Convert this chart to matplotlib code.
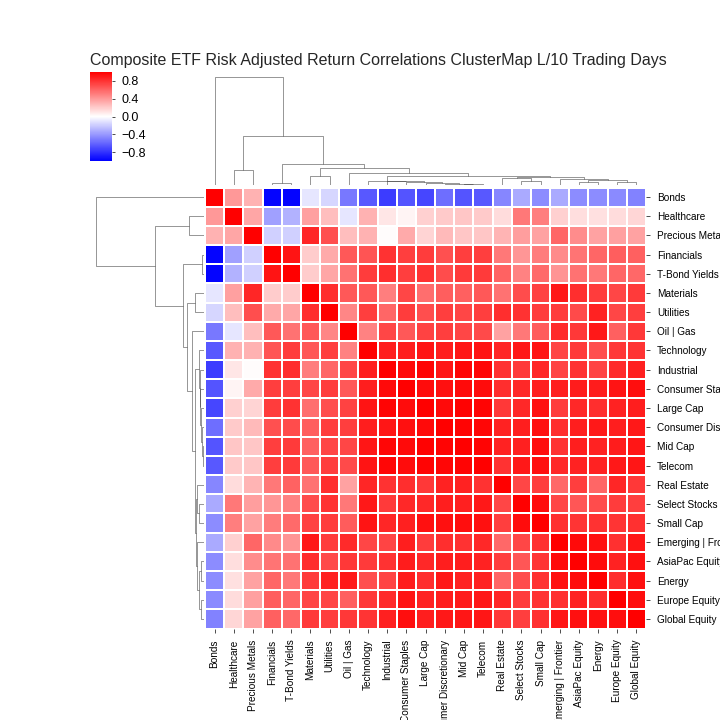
import numpy as np
import matplotlib
matplotlib.use("Agg")
from matplotlib import pyplot as plt
from matplotlib.collections import LineCollection

plt.rcParams['font.family'] = ['Liberation Sans', 'DejaVu Sans']

labels = ["Bonds", "Healthcare", "Precious Metals", "Financials", "T-Bond Yields",
          "Materials", "Utilities", "Oil | Gas", "Technology", "Industrial",
          "Consumer Staples", "Large Cap", "Consumer Discretionary", "Mid Cap",
          "Telecom", "Real Estate", "Select Stocks", "Small Cap",
          "Emerging | Frontier", "AsiaPac Equity", "Energy", "Europe Equity",
          "Global Equity"]

# upper triangle of the correlation matrix, row i holds columns i+1 .. 22
upper_rows = [
    [0.40, 0.30, -0.98, -0.98, -0.10, -0.16, -0.53, -0.65, -0.76, -0.67, -0.72,
     -0.57, -0.67, -0.65, -0.47, -0.33, -0.45, -0.33, -0.45, -0.45, -0.46, -0.49],
    [0.35, -0.37, -0.30, 0.37, 0.25, -0.10, 0.30, 0.10, 0.04, 0.18, 0.21, 0.22,
     0.21, 0.14, 0.53, 0.50, 0.18, 0.13, 0.12, 0.14, 0.16],
    [-0.18, -0.18, 0.85, 0.69, 0.25, 0.30, 0.01, 0.33, 0.17, 0.27, 0.22, 0.22,
     0.29, 0.38, 0.36, 0.60, 0.45, 0.36, 0.37, 0.36],
    [0.92, 0.20, 0.33, 0.65, 0.67, 0.80, 0.75, 0.76, 0.68, 0.75, 0.75, 0.53,
     0.41, 0.51, 0.46, 0.54, 0.60, 0.63, 0.62],
    [0.20, 0.35, 0.55, 0.76, 0.82, 0.75, 0.80, 0.70, 0.77, 0.77, 0.61, 0.49,
     0.58, 0.42, 0.55, 0.53, 0.60, 0.59],
    [0.82, 0.65, 0.65, 0.50, 0.72, 0.57, 0.63, 0.62, 0.65, 0.55, 0.70, 0.74,
     0.90, 0.82, 0.76, 0.72, 0.77],
    [0.47, 0.75, 0.60, 0.76, 0.69, 0.75, 0.72, 0.75, 0.82, 0.80, 0.76, 0.76,
     0.71, 0.86, 0.72, 0.75],
    [0.49, 0.72, 0.65, 0.74, 0.75, 0.72, 0.71, 0.36, 0.53, 0.64, 0.83, 0.78,
     0.90, 0.62, 0.78],
    [0.88, 0.88, 0.92, 0.88, 0.91, 0.92, 0.85, 0.90, 0.92, 0.72, 0.77, 0.69,
     0.78, 0.79],
    [0.96, 0.98, 0.91, 0.97, 0.97, 0.80, 0.77, 0.85, 0.73, 0.80, 0.73, 0.83, 0.87],
    [0.95, 0.93, 0.96, 0.95, 0.82, 0.84, 0.87, 0.88, 0.89, 0.89, 0.92, 0.94],
    [0.96, 0.99, 0.98, 0.78, 0.84, 0.93, 0.76, 0.84, 0.82, 0.86, 0.88],
    [0.98, 0.97, 0.86, 0.88, 0.93, 0.82, 0.88, 0.90, 0.88, 0.90],
    [0.98, 0.86, 0.87, 0.94, 0.80, 0.88, 0.86, 0.89, 0.91],
    [0.80, 0.90, 0.93, 0.84, 0.86, 0.86, 0.90, 0.91],
    [0.72, 0.75, 0.59, 0.75, 0.60, 0.85, 0.78],
    [0.95, 0.72, 0.66, 0.70, 0.76, 0.75],
    [0.81, 0.79, 0.80, 0.79, 0.81],
    [0.96, 0.93, 0.81, 0.91],
    [0.95, 0.86, 0.93],
    [0.82, 0.93],
    [0.94],
]

# linkage: (left, right, height); ids >= 23 are merges
merges = [
    (13, 14, 0.7), (12, 23, 1.3), (3, 4, 1.8), (11, 24, 2.3), (19, 20, 2.7),
    (21, 22, 2.7), (10, 26, 3.3), (9, 29, 4.0), (8, 30, 4.3), (16, 17, 4.3),
    (27, 28, 5.0), (18, 33, 6.5), (15, 32, 6.7), (35, 34, 8.0), (5, 6, 8.7),
    (31, 36, 9.0), (7, 38, 11.7), (1, 2, 15.0), (37, 39, 16.7), (25, 41, 20.7),
    (40, 42, 48.7), (0, 43, 107.7),
]

n = len(labels)
corr = np.eye(n)
for i, row in enumerate(upper_rows):
    corr[i, i + 1:] = row
    corr[i + 1:, i] = row

# dendrogram segments
pos = {i: i + 0.5 for i in range(n)}
hgt = {i: 0.0 for i in range(n)}
segs = []
for k, (a, b, h) in enumerate(merges):
    segs.append([(pos[a], hgt[a]), (pos[a], h), (pos[b], h), (pos[b], hgt[b])])
    pos[n + k] = (pos[a] + pos[b]) / 2
    hgt[n + k] = h
hmax = 113

W = 720.0
fig = plt.figure(figsize=(10, 10), dpi=72)
ax = fig.add_axes([205 / W, 1 - 628.5 / W, 441 / W, 441 / W])
ax_top = fig.add_axes([205 / W, 1 - 185 / W, 441 / W, hmax / W])
ax_left = fig.add_axes([90.5 / W, 1 - 628.5 / W, hmax / W, 441 / W])
cax = fig.add_axes([90 / W, 1 - 161 / W, 22 / W, 89 / W])

mesh = ax.pcolormesh(np.arange(n + 1), np.arange(n + 1), corr, cmap="bwr",
                     vmin=-1, vmax=1, edgecolors="white", linewidth=1.5)
ax.set_xlim(0, n)
ax.set_ylim(n, 0)
ax.set_xticks(np.arange(n) + 0.5)
ax.set_xticklabels(labels, rotation=90, fontsize=10)
ax.set_yticks(np.arange(n) + 0.5)
ax.set_yticklabels(labels, fontsize=10)
ax.yaxis.tick_right()
ax.tick_params(length=3.5, width=0.8, color="0.15", pad=7.5)
for s in ax.spines.values():
    s.set_visible(False)

ax_top.add_collection(LineCollection(segs, colors="0.2", linewidths=0.5))
ax_top.set_xlim(0, n)
ax_top.set_ylim(0, hmax)

left_segs = [[(y, x) for x, y in s] for s in segs]
ax_left.add_collection(LineCollection(left_segs, colors="0.2", linewidths=0.5))
ax_left.set_xlim(hmax, 0)
ax_left.set_ylim(n, 0)

for a in (ax_top, ax_left):
    a.set_xticks([])
    a.set_yticks([])
    for s in a.spines.values():
        s.set_visible(False)

cb = fig.colorbar(mesh, cax=cax, ticks=[-0.8, -0.4, 0.0, 0.4, 0.8])
cb.outline.set_visible(False)
cax.tick_params(labelsize=12.5, length=3, width=0.8, color="0.15", pad=6)

fig.text(378.5 / W, 1 - 60 / W,
         "Composite ETF Risk Adjusted Return Correlations ClusterMap L/10 Trading Days",
         ha="center", va="center", fontsize=16, color="0.15")

fig.savefig("out.png", dpi=72)
